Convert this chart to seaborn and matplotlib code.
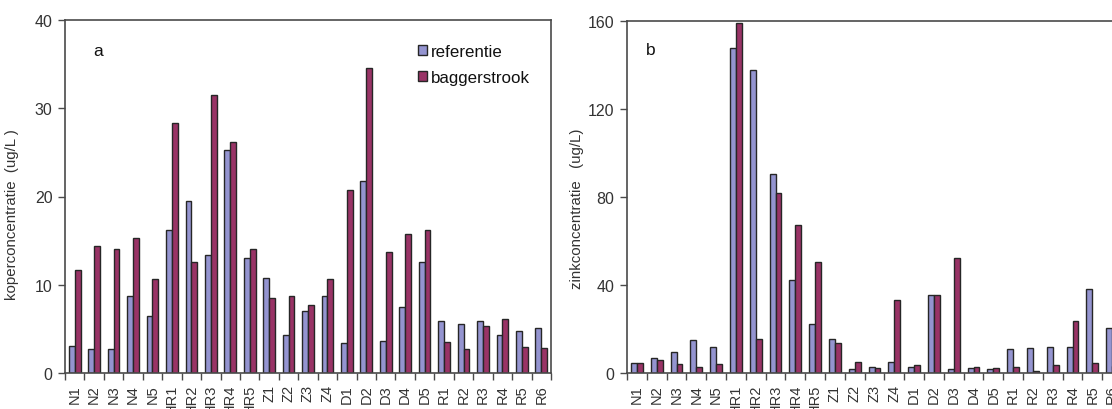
import numpy as np
import pandas as pd
import matplotlib
matplotlib.use("Agg")
import matplotlib.pyplot as plt
import seaborn as sns

# Meetlocaties (zelfde volgorde in beide panelen)
stations = ["N1", "N2", "N3", "N4", "N5",
            "HR1", "HR2", "HR3", "HR4", "HR5",
            "Z1", "Z2", "Z3", "Z4",
            "D1", "D2", "D3", "D4", "D5",
            "R1", "R2", "R3", "R4", "R5", "R6"]

# Koper (ug/L)
koper_referentie = [3.05, 2.7, 2.7, 8.7, 6.5,
                    16.2, 19.5, 13.4, 25.25, 13.0,
                    10.8, 4.3, 7.0, 8.7,
                    3.35, 21.8, 3.6, 7.45, 12.55,
                    5.9, 5.5, 5.9, 4.3, 4.8, 5.1]
koper_baggerstrook = [11.7, 14.4, 14.05, 15.3, 10.7,
                      28.3, 12.55, 31.5, 26.2, 14.05,
                      8.5, 8.7, 7.75, 10.7,
                      20.7, 34.6, 13.75, 15.75, 16.2,
                      3.5, 2.7, 5.35, 6.15, 2.95, 2.8]

# Zink (ug/L)
zink_referentie = [4.7, 7.0, 9.7, 15.0, 11.7,
                   147.6, 137.9, 90.3, 42.4, 22.1,
                   15.6, 1.7, 2.7, 4.8,
                   2.7, 35.5, 1.7, 2.3, 1.7,
                   10.8, 11.2, 11.8, 11.8, 38.2, 20.3]
zink_baggerstrook = [4.7, 5.9, 4.2, 2.7, 4.2,
                     158.9, 15.6, 81.7, 67.1, 50.5,
                     13.5, 4.8, 2.3, 33.2,
                     3.8, 35.5, 52.1, 2.7, 2.1,
                     2.7, 1.1, 3.8, 23.6, 4.4, 3.0]

series_names = ["referentie", "baggerstrook"]
series_colors = ["#9494d0", "#993366"]

koper_ticks = [0, 10, 20, 30, 40]
zink_ticks = [0, 40, 80, 120, 160]


def long_form(ref, bag):
    n = len(stations)
    return pd.DataFrame({
        "station": stations * 2,
        "reeks": [series_names[0]] * n + [series_names[1]] * n,
        "waarde": list(ref) + list(bag),
    })


sns.set_style("ticks")
plt.rcParams["font.family"] = ["Liberation Sans", "DejaVu Sans"]

W, H = 1112, 410
fig = plt.figure(figsize=(W / 100, H / 100), dpi=100)
ax_a = fig.add_axes([65 / W, 36 / H, 486 / W, 353 / H])
ax_b = fig.add_axes([627 / W, 36 / H, 495 / W, 352 / H])

spine_color = "#4a4a4a"
text_color = "#333333"


def draw_panel(ax, ref, bag, yticks, ylabel, letter, letter_xy, label_xy):
    sns.barplot(data=long_form(ref, bag), x="station", y="waarde",
                hue="reeks", order=stations, hue_order=series_names,
                palette=series_colors, saturation=1, width=0.6,
                edgecolor="#262626", linewidth=1.0, errorbar=None, ax=ax)
    n = len(stations)
    ax.set_xlim(-0.5, n - 0.5)
    ax.set_ylim(yticks[0], yticks[-1])
    ax.set_yticks(yticks)
    ax.set_yticklabels([str(t) for t in yticks], fontsize=11.5, color=text_color)
    ax.set_xticks(np.arange(n))
    ax.set_xticklabels(stations, rotation=90, fontsize=10.5, color=text_color)
    ax.set_xticks(np.arange(-0.5, n, 1.0), minor=True)
    ax.tick_params(axis="x", which="major", length=0, pad=8)
    ax.tick_params(axis="x", which="minor", length=5, width=1.0,
                   color=spine_color, direction="out")
    ax.tick_params(axis="y", length=5, width=1.0, color=spine_color,
                   direction="out", pad=4)
    for sp in ax.spines.values():
        sp.set_visible(True)
        sp.set_color(spine_color)
        sp.set_linewidth(1.2)
    ax.set_xlabel("")
    ax.set_ylabel(ylabel, fontsize=10.8, color=text_color)
    ax.yaxis.set_label_coords(*label_xy)
    ax.text(letter_xy[0], letter_xy[1], letter, transform=ax.transAxes,
            fontsize=12.5, color="#111111", va="center", ha="left")


draw_panel(ax_a, koper_referentie, koper_baggerstrook, koper_ticks,
           "koperconcentratie  (ug/L )", "a", (0.058, 0.915), (-0.095, 0.453))
draw_panel(ax_b, zink_referentie, zink_baggerstrook, zink_ticks,
           "zinkconcentratie   (ug/L)", "b", (0.038, 0.92), (-0.087, 0.47))

handles, labels = ax_a.get_legend_handles_labels()
ax_a.legend(handles, labels, loc="upper left", bbox_to_anchor=(0.709, 0.955),
            frameon=False, fontsize=12.2, handlelength=0.55, handleheight=0.55,
            handletextpad=0.2, labelspacing=0.62, borderpad=0,
            labelcolor="#111111")
if ax_b.get_legend() is not None:
    ax_b.get_legend().remove()

fig.savefig("out.png", dpi=100)
